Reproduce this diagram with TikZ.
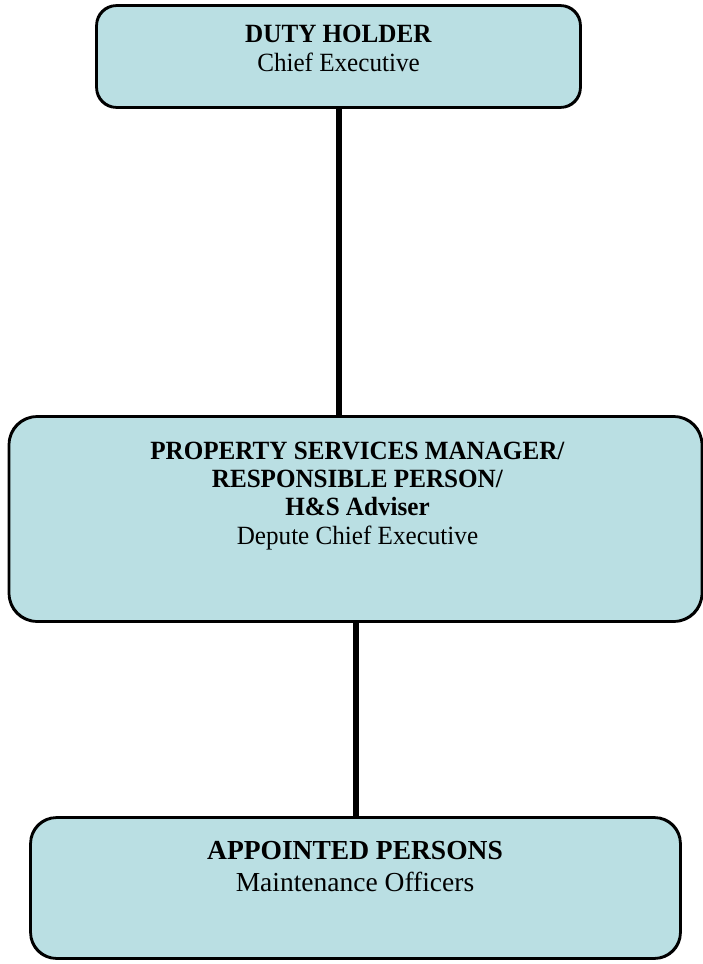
\documentclass[tikz,border=0pt]{standalone}
\usepackage{fontspec}
\setmainfont{Liberation Serif}
\newfontfamily\narrowserif{Liberation Serif}[FakeStretch=0.955]
\definecolor{boxfill}{RGB}{186,223,227}
\begin{document}
\begin{tikzpicture}[x=1pt,y=-1pt,
  orgbox/.style={draw=black, line width=1.8pt, fill=boxfill, rectangle, inner sep=0pt},
  linetxt/.style={anchor=base, inner sep=0pt, font=\narrowserif\fontsize{26.3}{30}\selectfont},
  bigtxt/.style={anchor=base, inner sep=0pt, font=\fontsize{27.5}{32}\selectfont},
  conn/.style={line width=6pt, black}]
\useasboundingbox (0,0) rectangle (702,964);
% boxes
\node[orgbox, rounded corners=20pt, minimum width=483pt, minimum height=101pt] (duty) at (338.5,56.5) {};
\node[orgbox, rounded corners=28pt, minimum width=692pt, minimum height=204pt] (psm) at (355.5,519) {};
\node[orgbox, rounded corners=26pt, minimum width=649pt, minimum height=140pt] (app) at (355.5,888) {};
% connectors
\draw[conn] (duty.south) -- (duty.south |- psm.north);
\draw[conn] (psm.south) -- (psm.south |- app.north);
% redraw box borders over connector ends
\draw[draw=black, line width=1.8pt, rounded corners=20pt] (duty.south west) rectangle (duty.north east);
\draw[draw=black, line width=1.8pt, rounded corners=28pt] (psm.south west) rectangle (psm.north east);
\draw[draw=black, line width=1.8pt, rounded corners=26pt] (app.south west) rectangle (app.north east);
% texts
\node[linetxt] (t1a) at (338.5,42.7) {\textbf{DUTY HOLDER}};
\node[linetxt] (t1b) at (338.5,71) {Chief Executive};
\node[linetxt] (t2a) at (357.5,459) {\textbf{PROPERTY SERVICES MANAGER/}};
\node[linetxt] (t2b) at (357.5,487.5) {\textbf{RESPONSIBLE PERSON/}};
\node[linetxt] (t2c) at (357.5,515.5) {\textbf{H\&S Adviser}};
\node[linetxt] (t2d) at (357.5,544) {Depute Chief Executive};
\node[bigtxt] (t3a) at (355,859) {\textbf{APPOINTED PERSONS}};
\node[bigtxt] (t3b) at (355,891) {Maintenance Officers};
\end{tikzpicture}
\end{document}
